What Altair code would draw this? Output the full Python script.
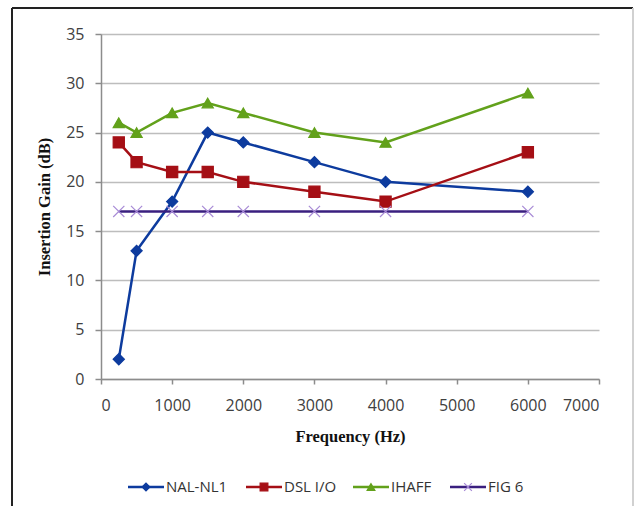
import altair as alt
import pandas as pd

# ---- data ----
freqs = [250, 500, 1000, 1500, 2000, 3000, 4000, 6000]
nal_nl1 = [2, 13, 18, 25, 24, 22, 20, 19]
dsl_io = [24, 22, 21, 21, 20, 19, 18, 23]
ihaff = [26, 25, 27, 28, 27, 25, 24, 29]
fig6 = [17, 17, 17, 17, 17, 17, 17, 17]
series_names = ["NAL-NL1", "DSL I/O", "IHAFF", "FIG 6"]
x_ticks = [0, 1000, 2000, 3000, 4000, 5000, 6000, 7000]
y_ticks = [0, 5, 10, 15, 20, 25, 30, 35]

# ---- styles ----
line_colors = ["#0D3B9E", "#A50F15", "#62A11B", "#3A1F7F"]
marker_fill = ["#0D3B9E", "#A50F15", "#62A11B", "transparent"]
marker_stroke = ["#0D3B9E", "#A50F15", "#62A11B", "#A88BD6"]
shapes = ["diamond", "square", "triangle-up", "M-1,-1L1,1M-1,1L1,-1"]
legend_slots = [45, 163, 270, 367]  # legend marker positions (layout)
SANS = "Open Sans"
SERIF = "Liberation Serif"

rows = []
for name, vals in zip(series_names, [nal_nl1, dsl_io, ihaff, fig6]):
    for f, v in zip(freqs, vals):
        rows.append({"series": name, "freq": f, "gain": v})
df = pd.DataFrame(rows)
leg_df = pd.DataFrame({"series": series_names, "slot": list(range(len(series_names)))})

color_enc = alt.Color("series:N", scale=alt.Scale(domain=series_names, range=line_colors), legend=None)
fill_enc = alt.Fill("series:N", scale=alt.Scale(domain=series_names, range=marker_fill), legend=None)
stroke_enc = alt.Stroke("series:N", scale=alt.Scale(domain=series_names, range=marker_stroke), legend=None)
shape_enc = alt.Shape("series:N", scale=alt.Scale(domain=series_names, range=shapes), legend=None)

x_enc = alt.X(
    "freq:Q",
    scale=alt.Scale(domain=[0, 7000], nice=False),
    axis=alt.Axis(values=x_ticks, title="Frequency (Hz)", grid=False, format="d",
                  tickSize=5, labelPadding=13, titlePadding=15),
)
y_enc = alt.Y(
    "gain:Q",
    scale=alt.Scale(domain=[0, 35], nice=False),
    axis=alt.Axis(values=y_ticks, title="Insertion Gain (dB)", grid=True,
                  tickSize=6, labelPadding=11, titlePadding=13),
)

base = alt.Chart(df)
lines = base.mark_line(strokeWidth=2.5).encode(x=x_enc, y=y_enc, color=color_enc,
                                               order=alt.Order("freq:Q"))
points = base.mark_point(filled=True, opacity=1, size=125, strokeWidth=1.2).encode(
    x=alt.X("freq:Q"), y=alt.Y("gain:Q"), fill=fill_enc, stroke=stroke_enc, shape=shape_enc
)
main = alt.layer(lines, points)

leg_x = alt.X("slot:Q",
              scale=alt.Scale(domain=[0, 1, 2, 3], range=legend_slots, nice=False, zero=False),
              axis=None)
leg_y = alt.value(453)
lbase = alt.Chart(leg_df)
leg_rule = lbase.mark_rule(strokeWidth=2.5, xOffset=-18, x2Offset=18).encode(
    x=leg_x, x2=alt.X2("slot:Q"), y=leg_y, color=color_enc)
leg_pt = lbase.mark_point(filled=True, opacity=1, size=60, strokeWidth=1.2).encode(
    x=leg_x, y=leg_y, fill=fill_enc, stroke=stroke_enc, shape=shape_enc)
leg_txt = lbase.mark_text(align="left", baseline="middle", dx=20, font=SANS,
                          fontSize=15, color="#333333").encode(
    x=leg_x, y=leg_y, text="series:N")
legend = alt.layer(leg_rule, leg_pt, leg_txt)

# outer frame
frame_top = alt.Chart(leg_df).mark_rule(color="#222222", strokeWidth=2).encode(
    x=alt.value(-89), x2=alt.value(532), y=alt.value(-26))
frame_left = alt.Chart(leg_df).mark_rule(color="#222222", strokeWidth=2).encode(
    x=alt.value(-89), y=alt.value(-26), y2=alt.value(480))
frame_right = alt.Chart(leg_df).mark_rule(color="#D0D0D0", strokeWidth=1.5).encode(
    x=alt.value(532), y=alt.value(-26), y2=alt.value(480))
frame = alt.layer(frame_top, frame_left, frame_right)

chart = alt.layer(main, legend, frame).resolve_scale(x="independent").properties(
    width=498, height=345,
    autosize=alt.AutoSizeParams(type="none"),
    padding={"left": 101, "top": 34, "right": 36, "bottom": 127},
    background="white",
).configure_view(stroke=None).configure_axis(
    domainColor="#8C8C8C", domainWidth=1.5, tickColor="#8C8C8C", tickWidth=1.5,
    gridColor="#BDBDBD", gridWidth=1.5,
    labelFont=SANS, labelFontSize=16, labelColor="#404040",
    titleFont=SERIF, titleFontSize=16.5, titleFontWeight="bold", titleColor="#111111",
)

chart.save("out.html", embed_options={"renderer": "svg", "actions": False})
